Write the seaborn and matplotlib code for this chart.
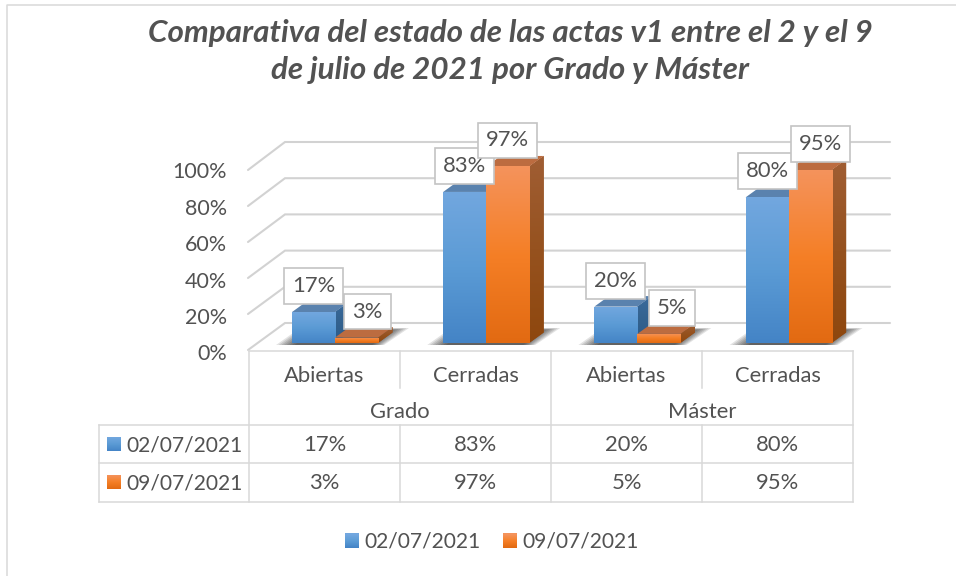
import numpy as np
import pandas as pd
import matplotlib
matplotlib.use("Agg")
import matplotlib.pyplot as plt
import seaborn as sns
from matplotlib.colors import LinearSegmentedColormap
from matplotlib.legend_handler import HandlerBase
from matplotlib.patches import Patch, Polygon, Rectangle
from matplotlib.transforms import ScaledTranslation

# ---------- data ----------
title_lines = ["Comparativa del estado de las actas v1 entre el 2 y el 9",
               "de julio de 2021 por Grado y Máster"]
levels = ["Grado", "Máster"]
states = ["Abiertas", "Cerradas", "Abiertas", "Cerradas"]
dates = ["02/07/2021", "09/07/2021"]
values_0207 = [17, 83, 20, 80]
values_0907 = [3, 97, 5, 95]
y_ticks = [0, 20, 40, 60, 80, 100]

# ---------- style ----------
TXT = "#525252"
LINE = "#D9D9D9"
FONT = "Lato"
FS = 15.8
FS_DATE = 15.1
FRONT = [["#72A7DF", "#5B9BD5", "#4484C6"], ["#F4935C", "#F57F26", "#E26A12"]]
SIDE = [["#3A6A9C", "#33628F", "#2C5B8A"], ["#A05E34", "#96521F", "#8E470E"]]
TOP = ["#5A82AE", "#BC6C40"]
FLAT = ["#5B9BD5", "#ED7D31"]

W, H = 956, 576
BASE_Y, PX_PER_PCT = 343, 1.82
FIRST_X, STEP_X = 335, 151.2
AX_L, AX_R, AX_T = 250, 890, 130
DEPTH_X, DEPTH_Y = 14.5, 10.5

sns.set_theme(style="white")
plt.rcParams["font.family"] = [FONT, "DejaVu Sans"]

fig = plt.figure(figsize=(W / 100, H / 100), dpi=100, facecolor="white")
ax = fig.add_axes([AX_L / W, 1 - BASE_Y / H, (AX_R - AX_L) / W, (BASE_Y - AX_T) / H])
ax.set_facecolor("none")
ax.set_zorder(2)

keys = [f"{lv} {st}" for lv, st in zip(np.repeat(levels, 2), states)]
df = pd.DataFrame({
    "key": keys * 2,
    "value": values_0207 + values_0907,
    "date": np.repeat(dates, len(keys)),
})
sns.barplot(data=df, x="key", y="value", hue="date", order=keys, hue_order=dates,
            palette=FLAT, width=0.569, gap=0, dodge=True, saturation=1,
            legend=False, ax=ax)

xlim = ((AX_L - FIRST_X) / STEP_X, (AX_R - FIRST_X) / STEP_X)
ylim = (0, (BASE_Y - AX_T) / PX_PER_PCT)


def px(x, y):
    """Pixel position -> data position of the bar axes."""
    return (x - FIRST_X) / STEP_X, (BASE_Y - y) / PX_PER_PCT


def gradient(target, extent, colors, clip, z):
    cmap = LinearSegmentedColormap.from_list("g", colors)
    im = target.imshow(np.linspace(0, 1, 128)[:, None], cmap=cmap, extent=extent,
                       aspect="auto", origin="upper", zorder=z, interpolation="bilinear")
    im.set_clip_path(clip)
    return im


# walls and floor
for v in y_ticks:
    fy, by = 350 - 1.8 * v, 323 - 1.81 * v
    pts = [px(248, fy), px(285, by), px(AX_R, by)]
    ax.plot(*zip(*pts), color="#D2D2D2", lw=1.5, zorder=1, clip_on=False,
            solid_joinstyle="miter")

dx, dy = DEPTH_X / STEP_X, DEPTH_Y / PX_PER_PCT

# floor shadows under each pair of bars
for i in range(len(keys)):
    x0 = FIRST_X + STEP_X * i - 43
    x1 = FIRST_X + STEP_X * i + 43
    shape = np.array([[x0 - 16, 345], [x1 + 6, 345], [x1 + 31, 328], [x0 + 8, 328]], float)
    centre = shape.mean(axis=0)
    for s in np.linspace(1.0, 0.72, 8):
        scaled = centre + (shape - centre) * [s, s]
        scaled[:2, 1] = 345
        ax.add_patch(Polygon([px(*p) for p in scaled], closed=True, fc="black", ec="none",
                             alpha=0.11, zorder=2, clip_on=False))

# 3D bars and value labels
for s, container in enumerate(ax.containers):
    z = 3 + s
    for i, bar in enumerate(container):
        x0, w, h = bar.get_x(), bar.get_width(), bar.get_height()
        x1 = x0 + w
        bar.set_zorder(z)
        bar.set_clip_on(False)
        bar.set_edgecolor("none")
        gradient(ax, (x0, x1, 0, h), FRONT[s], bar, z + 0.02)
        side = Polygon([(x1, 0), (x1 + dx, dy), (x1 + dx, h + dy), (x1, h)], closed=True,
                       fc=SIDE[s][1], ec="none", zorder=z, clip_on=False)
        ax.add_patch(side)
        gradient(ax, (x1, x1 + dx, 0, h + dy), SIDE[s], side, z + 0.01)
        ax.add_patch(Polygon([(x0, h), (x1, h), (x1 + dx, h + dy), (x0 + dx, h + dy)],
                             closed=True, fc=TOP[s], ec="none", zorder=z + 0.01, clip_on=False))
        shift = {(1, 0): 11, (1, 2): 13, (1, 3): 10}.get((s, i), 0)
        ax.annotate(f"{h:.0f}%", (x0 + w / 2, h), xytext=(shift * 0.72, 26 * 0.72),
                    textcoords="offset points", ha="center", va="center", color=TXT,
                    fontsize=FS, zorder=10, annotation_clip=False,
                    bbox=dict(boxstyle="square,pad=0.36", fc="white", ec="#C4C4C4", lw=1.2))

ax.set_xlim(*xlim)
ax.set_ylim(*ylim)
ax.set_xlabel("")
ax.set_ylabel("")
ax.set_xticks([])
ax.set_yticks(y_ticks, [f"{v}%" for v in y_ticks])
ax.tick_params(axis="y", length=0, pad=16.6, labelsize=15.5, labelcolor=TXT)
shift_down = ScaledTranslation(0, -9.5 / 100, fig.dpi_scale_trans)
for lab in ax.get_yticklabels():
    lab.set_transform(lab.get_transform() + shift_down)
sns.despine(ax=ax, left=True, bottom=True)

# ---------- page overlay in pixel space: title, data table, frame ----------
ov = fig.add_axes([0, 0, 1, 1], zorder=5)
ov.patch.set_alpha(0)
ov.axis("off")

ov.plot([7, 7, W], [H, 5, 5], color="#D9D9D9", lw=1.1)

ov.text(510, 33, title_lines[0], ha="center", va="center", fontsize=22.6, fontweight="bold",
        fontstyle="italic", color=TXT)
ov.text(510, 70, title_lines[1], ha="center", va="center", fontsize=22.6, fontweight="bold",
        fontstyle="italic", color=TXT)

col = [249, 400, 551, 702, 853]
segments = [
    ([col[0], col[-1]], [351, 351]),
    ([99, col[-1]], [425, 425]),
    ([99, col[-1]], [463, 463]),
    ([99, col[-1]], [502, 502]),
    ([99, 99], [425, 502]),
    ([col[0], col[0]], [351, 502]),
    ([col[2], col[2]], [351, 502]),
    ([col[4], col[4]], [351, 502]),
    ([col[1], col[1]], [351, 388]),
    ([col[3], col[3]], [351, 388]),
    ([col[1], col[1]], [425, 502]),
    ([col[3], col[3]], [425, 502]),
]
for xs, ys in segments:
    ov.plot(xs, ys, color=LINE, lw=1.1, solid_capstyle="projecting")

table_font = dict(ha="center", va="center", color=TXT, fontsize=FS)
for i, st in enumerate(states):
    c = (col[i] + col[i + 1]) / 2
    ov.text(c, 375.5, st, **table_font)
    ov.text(c, 445, f"{values_0207[i]}%", **table_font)
    ov.text(c, 483, f"{values_0907[i]}%", **table_font)
for j, lv in enumerate(levels):
    ov.text((col[2 * j] + col[2 * j + 2]) / 2, 412, lv, **table_font)

for s, (d, yc) in enumerate(zip(dates, [444, 482])):
    rect = Rectangle((107, yc - 7), 14, 14, fc=FLAT[s], ec="none", zorder=3)
    ov.add_patch(rect)
    gradient(ov, (107, 121, yc + 7, yc - 7), FRONT[s], rect, 3.1)
    ov.text(126, yc + 1, d, ha="left", va="center", color=TXT, fontsize=FS_DATE)

ov.set_xlim(0, W)
ov.set_ylim(H, 0)


# ---------- legend ----------
class GradientKey(HandlerBase):
    def create_artists(self, legend, orig, xd, yd, width, height, fontsize, trans):
        colors = orig.get_gid().split(",")
        cmap = LinearSegmentedColormap.from_list("k", colors)
        n = 14
        out = []
        for k in range(n):
            out.append(Rectangle((-xd, -yd + height * k / n), width, height / n + 0.2,
                                 fc=cmap(1 - k / (n - 1)), ec="none", transform=trans))
        return out


handles = [Patch(gid=",".join(FRONT[s]), label=dates[s]) for s in range(2)]
fig.legend(handles=handles, loc="center", bbox_to_anchor=(492 / W, 1 - 542 / H), ncol=2,
           frameon=False, fontsize=FS_DATE, labelcolor=TXT, handlelength=0.66, handleheight=0.66,
           handletextpad=0.26, columnspacing=1.1, borderpad=0,
           handler_map={Patch: GradientKey()})

fig.savefig("out.png", dpi=100)
